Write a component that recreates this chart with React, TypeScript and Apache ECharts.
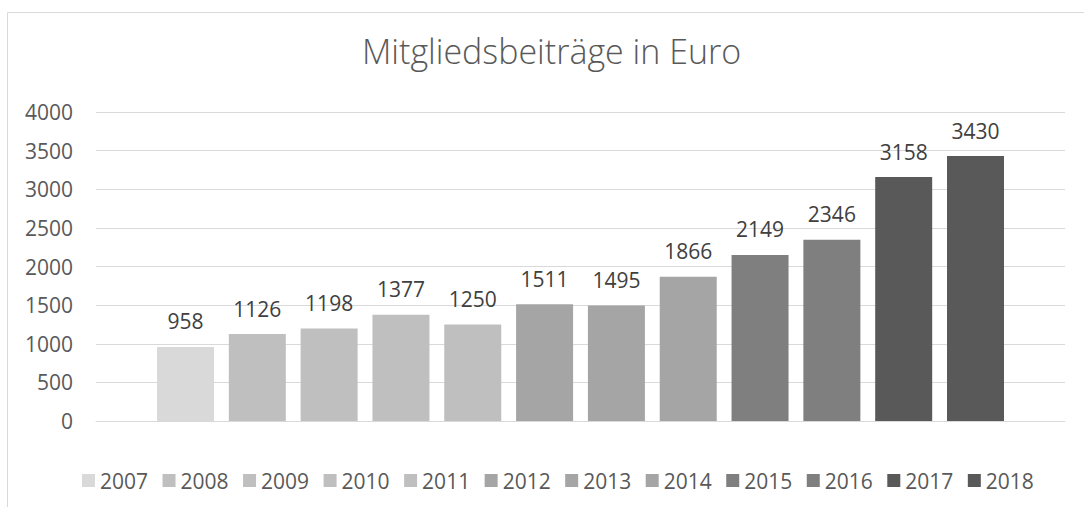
import React, { useEffect, useRef } from "react";
import * as echarts from "echarts";

const years = ["2007", "2008", "2009", "2010", "2011", "2012", "2013", "2014", "2015", "2016", "2017", "2018"];
const values = [958, 1126, 1198, 1377, 1250, 1511, 1495, 1866, 2149, 2346, 3158, 3430];
const colors = ["#D9D9D9", "#BFBFBF", "#BFBFBF", "#BFBFBF", "#BFBFBF", "#A5A5A5", "#A5A5A5", "#A5A5A5", "#7F7F7F", "#7F7F7F", "#595959", "#595959"];
const category = ["Mitgliedsbeiträge"];
const titleText = "Mitgliedsbeiträge in Euro";

const FONT = "'Open Sans', 'Noto Sans', sans-serif";

export default function App() {
  const ref = useRef<HTMLDivElement>(null);
  useEffect(() => {
    if (!ref.current) return;
    const chart = echarts.init(ref.current, undefined, { renderer: "svg" });
    chart.setOption({
      animation: false,
      backgroundColor: "#ffffff",
      title: {
        text: titleText,
        left: 357,
        top: 29,
        textStyle: { color: "#595959", fontSize: 34, fontWeight: 300, fontFamily: FONT },
      },
      graphic: [
        {
          type: "rect",
          shape: { x: 7.5, y: 12.5, width: 1200, height: 600 },
          style: { fill: "none", stroke: "#D9D9D9", lineWidth: 1 },
          silent: true,
          z: -10,
        },
      ],
      legend: {
        data: years,
        left: 77,
        top: 465,
        icon: "rect",
        itemWidth: 13,
        itemHeight: 13,
        itemGap: 14.5,
        textStyle: { color: "#595959", fontSize: 21, fontFamily: FONT },
      },
      grid: { left: 96, right: 19, top: 112, bottom: 86, containLabel: false },
      xAxis: {
        type: "category",
        data: category,
        axisLabel: { show: false },
        axisTick: { show: false },
        axisLine: { show: true, lineStyle: { color: "#D9D9D9", width: 1 } },
      },
      yAxis: {
        type: "value",
        min: 0,
        max: 4000,
        interval: 500,
        axisLine: { show: false },
        axisTick: { show: false },
        axisLabel: {
          color: "#595959",
          fontSize: 21,
          fontFamily: FONT,
          margin: 23,
          formatter: (v: number) => String(v),
        },
        splitLine: { lineStyle: { color: "#D9D9D9", width: 1 } },
      },
      series: years.map((y, i) => ({
        name: y,
        type: "bar",
        data: [values[i]],
        barWidth: 57,
        barGap: "26%",
        itemStyle: { color: colors[i] },
        label: {
          show: true,
          position: "top",
          distance: 15,
          color: "#404040",
          fontSize: 21,
          fontFamily: FONT,
        },
      })),
    });
    return () => chart.dispose();
  }, []);
  return (
    <div
      ref={ref}
      style={{ position: "fixed", left: 0, top: 0, width: 1084, height: 507 }}
    />
  );
}
